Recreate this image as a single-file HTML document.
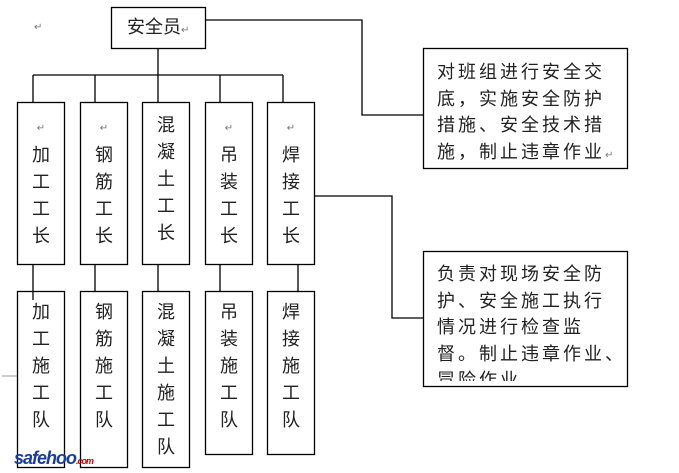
<!DOCTYPE html>
<html><head><meta charset="utf-8"><style>
body{margin:0;width:679px;height:473px;background:#fff;position:relative;overflow:hidden;font-family:"Liberation Sans","Noto Sans CJK SC",sans-serif;color:#222}
.t{position:absolute;font-size:18px;line-height:27px;white-space:pre}
.c{position:absolute;font-size:18px;line-height:27px;width:20px;text-align:center}
.r{position:absolute;font-size:18px;line-height:26.5px;letter-spacing:3px;white-space:pre}
.m{font-size:10px;color:#777}
</style></head><body>
<svg width="679" height="473" style="position:absolute;left:0;top:0" fill="none" stroke="#000" stroke-width="1.3">
<rect x="111.5" y="7.5" width="94" height="41"/>
<path d="M158 48V75M33 75H283M33 75V102M95 75V102M158 75V102M220 75V102M283 75V102"/>
<rect x="17.5" y="102.5" width="47" height="162"/>
<rect x="80.5" y="102.5" width="47" height="162"/>
<rect x="142.5" y="102.5" width="47" height="162"/>
<rect x="205.5" y="102.5" width="47" height="162"/>
<rect x="267.5" y="102.5" width="47" height="162"/>
<path d="M33 264V300H33M95 264V291M158 264V291M220 264V291M298 264V291"/>
<rect x="17.5" y="291.5" width="47" height="176"/>
<rect x="80.5" y="291.5" width="47" height="176"/>
<rect x="142.5" y="291.5" width="47" height="176"/>
<rect x="205.5" y="291.5" width="47" height="163"/>
<rect x="267.5" y="291.5" width="47" height="163"/>
<path d="M205 20H362V115H423M314 196H392V318H423"/>
<rect x="423.5" y="48.5" width="204" height="120"/>
<rect x="423.5" y="251.5" width="204" height="135"/>
<path d="M2 376H17" stroke="#999" stroke-width="1"/>
</svg>
<div class="t" style="left:127px;top:14px">安全员<span class="m">↵</span></div>
<div class="t m" style="left:34px;top:14px">↵</div>
<div class="c" style="left:31px;top:112px"><span class="m">↵</span><br>加<br>工<br>工<br>长</div>
<div class="c" style="left:94px;top:112px"><span class="m">↵</span><br>钢<br>筋<br>工<br>长</div>
<div class="c" style="left:156px;top:112px">混<br>凝<br>土<br>工<br>长</div>
<div class="c" style="left:219px;top:112px"><span class="m">↵</span><br>吊<br>装<br>工<br>长</div>
<div class="c" style="left:281px;top:112px"><span class="m">↵</span><br>焊<br>接<br>工<br>长</div>
<div class="c" style="left:31px;top:299px">加<br>工<br>施<br>工<br>队</div>
<div class="c" style="left:94px;top:299px">钢<br>筋<br>施<br>工<br>队</div>
<div class="c" style="left:156px;top:299px">混<br>凝<br>土<br>施<br>工<br>队</div>
<div class="c" style="left:219px;top:299px">吊<br>装<br>施<br>工<br>队</div>
<div class="c" style="left:281px;top:299px">焊<br>接<br>施<br>工<br>队</div>
<div class="r" style="left:437px;top:59px">对班组进行安全交<br>底，实施安全防护<br>措施、安全技术措<br>施，制止违章作业<span class="m">↵</span></div>
<div style="position:absolute;left:424px;top:252px;width:203px;height:129px;overflow:hidden">
<div class="r" style="left:13px;top:9px">负责对现场安全防<br>护、安全施工执行<br>情况进行检查监<br>督。制止违章作业、<br>冒险作业。</div></div>
<div style="position:absolute;left:14px;top:448px;font-weight:bold;font-size:18px;font-style:italic;color:#1a3d9a;letter-spacing:-1px">safehoo<span style="font-size:9px;color:#c00">.com</span></div>
</body></html>
